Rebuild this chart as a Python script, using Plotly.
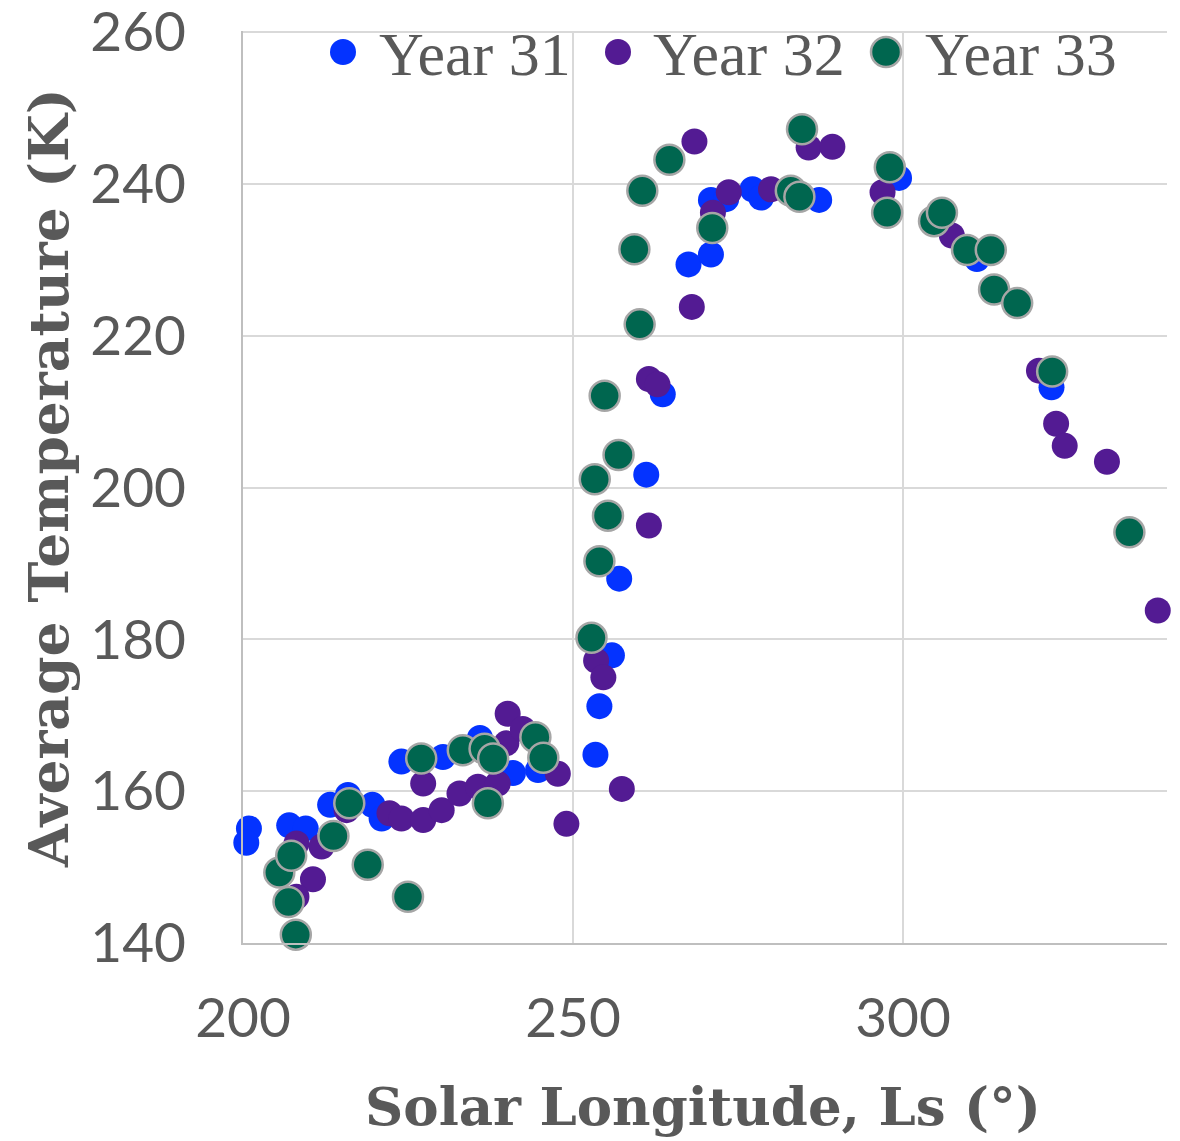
import plotly.graph_objects as go

# Year 31
y31_ls = [200.9, 200.5, 207.0, 209.5, 213.2, 215.9, 219.6, 221.0, 224.0, 230.3, 235.9, 240.9, 244.7,
          253.4, 254.0, 255.9, 257.0, 261.1, 263.6, 267.5, 270.9, 270.9, 273.2, 277.2, 278.5, 287.3,
          299.4, 311.2, 322.5]
y31_t = [155.1, 153.2, 155.5, 155.1, 158.2, 159.5, 158.2, 156.4, 163.9, 164.5, 167.0, 162.4, 162.8,
         164.8, 171.2, 177.9, 188.0, 201.7, 212.3, 229.4, 230.7, 237.9, 238.0, 239.3, 238.2, 237.9,
         240.8, 230.1, 213.2]

# Year 32
y32_ls = [208.1, 211.9, 210.6, 208.1, 215.7, 222.2, 224.0, 227.3, 227.3, 230.1, 232.8, 235.6, 238.6,
          239.9, 240.1, 242.4, 247.7, 249.0, 253.5, 254.6, 257.4, 261.5, 261.5, 262.8, 268.0, 268.4,
          271.2, 273.6, 280.0, 285.7, 289.3, 296.9, 307.4, 320.6, 323.2, 324.5, 330.9, 338.6]
y32_t = [153.1, 152.7, 148.4, 146.1, 157.5, 157.1, 156.4, 156.2, 161.0, 157.5, 159.7, 160.6, 161.0,
         166.3, 170.2, 168.2, 162.3, 155.7, 177.2, 175.0, 160.3, 195.0, 214.3, 213.6, 223.8, 245.6,
         236.2, 238.9, 239.3, 244.8, 244.9, 238.9, 233.2, 215.4, 208.4, 205.5, 203.4, 183.8]

# Year 33
y33_ls = [205.5, 206.9, 207.3, 208.0, 213.7, 216.1, 218.9, 225.0, 227.0, 233.3, 236.6, 237.1, 237.9,
          244.3, 245.5, 252.8, 253.3, 254.0, 254.8, 255.3, 256.9, 259.3, 260.1, 260.5, 264.6, 271.1,
          283.0, 284.3, 284.7, 297.6, 298.0, 304.7, 305.9, 309.7, 313.3, 313.8, 317.3, 322.6, 334.3]
y33_t = [149.3, 145.4, 151.5, 141.1, 154.1, 158.4, 150.3, 146.1, 164.3, 165.4, 165.6, 158.4, 164.3,
         167.1, 164.4, 180.2, 201.1, 190.3, 212.1, 196.3, 204.3, 231.4, 221.5, 239.1, 243.2, 234.2,
         239.1, 238.3, 247.2, 236.2, 242.2, 235.1, 236.2, 231.3, 231.3, 226.1, 224.3, 215.3, 194.1]

series_names = ["Year 31", "Year 32", "Year 33"]
series_colors = ["#0433FF", "#531B93", "#00664F"]
x_ticks = [200, 250, 300]
y_ticks = [140, 160, 180, 200, 220, 240, 260]

TXT = "#595959"
OUTLINE = "#A6A6A6"

# page has an 8px default body margin; figure sized/positioned to compensate
OFF = 8
FW, FH = 1180 - OFF, 1141 - OFF
PL, PW, PT, PH = 243 - OFF, 924, 31 - OFF, 912

fig = go.Figure()
data = [(y31_ls, y31_t), (y32_ls, y32_t), (y33_ls, y33_t)]
for i, (xs, ys) in enumerate(data):
    if i == 2:
        mk = dict(color=series_colors[i], size=30, line=dict(width=2.5, color=OUTLINE))
    else:
        mk = dict(color=series_colors[i], size=26, line=dict(width=0))
    fig.add_trace(go.Scatter(x=xs, y=ys, mode="markers", name=series_names[i],
                             marker=mk, showlegend=False, cliponaxis=False))

def px(xp):
    return (xp - OFF - PL) / PW
def py(yp):
    return (PT + PH - (yp - OFF)) / PH

# custom legend (larger markers than plotly's legend allows)
leg_marker_x = [343, 618, 886]
leg_text_x = [377, 651, 923]
leg_y = 52
for i in range(3):
    line = dict(width=2.5, color=OUTLINE) if i == 2 else dict(width=0)
    r = 15 if i == 2 else 13
    fig.add_shape(type="circle", xref="paper", yref="paper", xsizemode="pixel", ysizemode="pixel",
                  xanchor=px(leg_marker_x[i]), yanchor=py(leg_y), x0=-r, x1=r, y0=-r, y1=r,
                  fillcolor=series_colors[i], line=line, layer="above")
    fig.add_annotation(text=series_names[i], xref="paper", yref="paper", x=px(leg_text_x[i]),
                       y=py(leg_y + 2), xanchor="left", yanchor="middle", showarrow=False,
                       font=dict(family="Liberation Serif", size=62, color=TXT))

fig.add_annotation(text="Solar Longitude, Ls (°)", xref="paper", yref="paper", x=px(703), y=py(1106),
                   xanchor="center", yanchor="middle", showarrow=False,
                   font=dict(family="DejaVu Serif", size=53, color=TXT, weight="bold"))
fig.add_annotation(text="Average Temperature (K)", xref="paper", yref="paper", x=px(48), y=py(478),
                   xanchor="center", yanchor="middle", showarrow=False, textangle=-90,
                   font=dict(family="DejaVu Serif", size=55, color=TXT, weight="bold"))

fig.update_layout(
    width=FW, height=FH,
    margin=dict(l=PL, r=FW - PL - PW, t=PT, b=FH - PT - PH, autoexpand=False),
    paper_bgcolor="white", plot_bgcolor="white",
    showlegend=False,
    xaxis=dict(range=[200, 340], tickvals=x_ticks, showgrid=True, gridcolor="#D9D9D9", gridwidth=2,
               showline=True, linecolor="#BFBFBF", linewidth=2, zeroline=False, automargin=False,
               ticks="outside", ticklen=0, ticklabelstandoff=26, ticklabeloverflow="allow",
               tickfont=dict(family="Lato", size=55, color=TXT)),
    yaxis=dict(range=[140, 260.15], tickvals=y_ticks, showgrid=True, gridcolor="#D9D9D9", gridwidth=2,
               showline=True, linecolor="#BFBFBF", linewidth=2, zeroline=False, automargin=False,
               ticks="outside", ticklen=0, ticklabelstandoff=44, ticklabeloverflow="allow",
               tickfont=dict(family="Lato", size=55, color=TXT)),
)

fig.write_html("out.html")
